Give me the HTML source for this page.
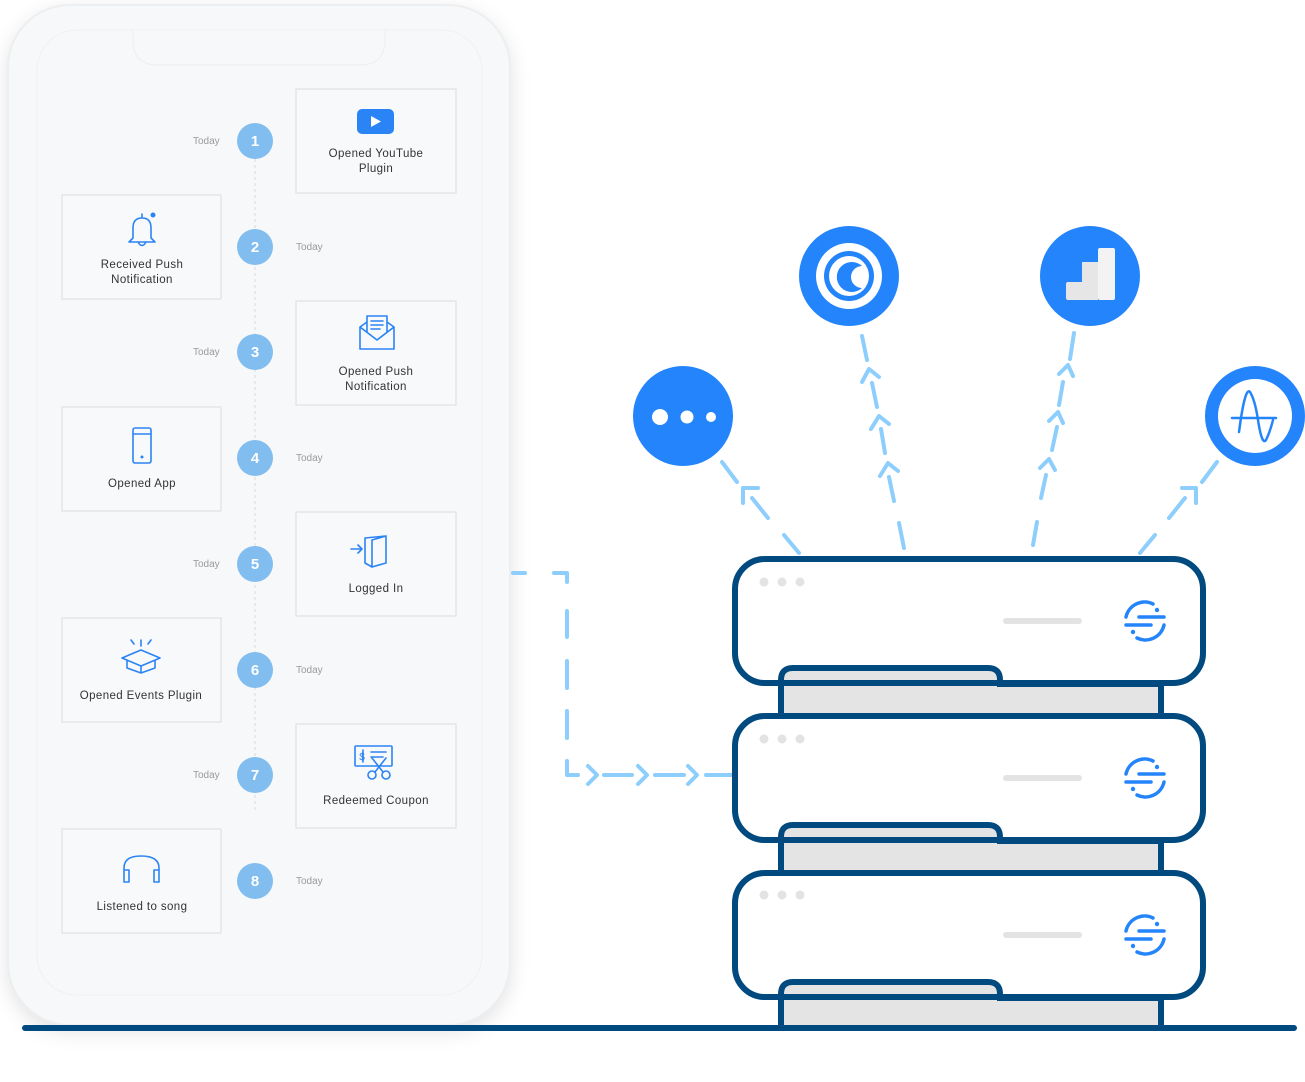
<!DOCTYPE html>
<html><head><meta charset="utf-8"><style>
html,body{margin:0;padding:0;background:#fff;}
svg{display:block;font-family:"Liberation Sans",sans-serif;}
.card{fill:#f8f9fa;stroke:#e3e5e7;stroke-width:1.5;}
.lbl{font-size:11.5px;fill:#333;text-anchor:middle;letter-spacing:0.4px;}
.td{font-size:10px;fill:#9a9a9a;}
.num{font-size:15px;fill:#fff;text-anchor:middle;font-weight:bold;}
.ic{fill:none;stroke:#2b84f5;stroke-width:1.6;stroke-linecap:round;stroke-linejoin:round;}
.chev{fill:none;stroke:#8dcefc;stroke-width:4;stroke-linecap:round;stroke-linejoin:round;}
.srv{fill:#fff;stroke:#004a80;stroke-width:6;}
.base{fill:#e4e4e4;stroke:#004a80;stroke-width:6;}
.si{fill:none;stroke:#2384fb;stroke-width:3.5;stroke-linecap:round;}
</style></head><body>
<svg width="1305" height="1082" viewBox="0 0 1305 1082">
<defs>
<filter id="sh" x="-20%" y="-20%" width="140%" height="140%"><feDropShadow dx="0" dy="6" stdDeviation="10" flood-color="#000" flood-opacity="0.12"/></filter>
<g id="srvicon">
<path d="M-19,-4 A19,19 0 0 1 8,-17" class="si"/>
<path d="M19,4 A19,19 0 0 1 -8,17" class="si"/>
<line x1="-6" y1="-4" x2="19" y2="-4" class="si"/>
<line x1="-19" y1="4" x2="6" y2="4" class="si"/>
<circle cx="12" cy="-11" r="2.2" fill="#2384fb"/><circle cx="-12" cy="11" r="2.2" fill="#2384fb"/>
</g>
</defs>

<!-- phone -->
<rect x="8" y="5" width="502" height="1020" rx="62" fill="#f7f8f9" filter="url(#sh)"/>
<rect x="8" y="5" width="502" height="1020" rx="62" fill="none" stroke="#eceef0" stroke-width="2"/>
<rect x="37" y="30" width="445" height="965" rx="40" fill="#f7f8f9" stroke="#eef0f2" stroke-width="1"/>
<path d="M133,30 L133,40 Q133,65 158,65 L360,65 Q385,65 385,40 L385,30" fill="#f7f8f9" stroke="#eceef0" stroke-width="1"/>

<line x1="255" y1="159" x2="255" y2="813" stroke="#d8dadc" stroke-width="1" stroke-dasharray="3 3"/>

<!-- cards -->
<rect class="card" x="296" y="89" width="160" height="104"/>
<rect class="card" x="62" y="195" width="159" height="104"/>
<rect class="card" x="296" y="301" width="160" height="104"/>
<rect class="card" x="62" y="407" width="159" height="104"/>
<rect class="card" x="296" y="512" width="160" height="104"/>
<rect class="card" x="62" y="618" width="159" height="104"/>
<rect class="card" x="296" y="724" width="160" height="104"/>
<rect class="card" x="62" y="829" width="159" height="104"/>

<!-- icons in cards -->
<rect x="357" y="109" width="37" height="25" rx="5" fill="#2b84f5"/>
<path d="M371,116 L381,121.5 L371,127 Z" fill="#fff"/>
<path class="ic" d="M133,238 L133,228 Q133,218 142,218 Q151,218 151,228 L151,238 L155,242 L129,242 Z M138,242 Q142,249 146,242 M142,218 L142,214"/>
<circle cx="153" cy="215" r="2.5" fill="#2b84f5"/>
<path class="ic" d="M360,327 L360,349 L394,349 L394,327 L377,340 Z M360,327 L367,322 M394,327 L387,322 M367,332 L367,316 L387,316 L387,332 M371,321 L383,321 M371,325 L383,325 M371,329 L380,329"/>
<rect class="ic" x="133" y="428" width="18" height="35" rx="2"/><line class="ic" x1="133" y1="434" x2="151" y2="434"/><circle cx="142" cy="457" r="1.5" fill="#2b84f5"/>
<path class="ic" d="M351,549 L362,549 M358,545 L362,549 L358,553 M365,538 L365,563 L372,567 L372,540 L386,536 L386,563 L372,567 M365,538 L386,536"/>
<path class="ic" d="M122,658 L141,650 L160,658 L141,666 Z M127,660 L127,668 L141,673 L155,668 L155,660 M141,666 L141,673 M141,646 L141,640 M134,644 L131,640 M148,644 L151,640"/>
<rect class="ic" x="355" y="746" width="37" height="20" rx="1"/>
<path class="ic" d="M363,750 L363,762 M371,752 L386,752 M371,757 L383,757"/>
<text x="362" y="760" font-size="10" fill="#2b84f5" text-anchor="middle">$</text>
<circle class="ic" cx="372" cy="775" r="4" fill="#f8f9fa"/><circle class="ic" cx="386" cy="775" r="4" fill="#f8f9fa"/>
<path class="ic" d="M375,772 L386,758 M383,772 L372,758"/>
<path class="ic" d="M124,877 L124,868 Q124,856 141,856 Q159,856 159,868 L159,877 M124,870 L129,870 L129,882 L124,882 Z M159,870 L154,870 L154,882 L159,882 Z"/>

<text class="lbl" x="376" y="157">Opened YouTube</text><text class="lbl" x="376" y="172">Plugin</text>
<text class="lbl" x="142" y="268">Received Push</text><text class="lbl" x="142" y="283">Notification</text>
<text class="lbl" x="376" y="375">Opened Push</text><text class="lbl" x="376" y="390">Notification</text>
<text class="lbl" x="142" y="487">Opened App</text>
<text class="lbl" x="376" y="592">Logged In</text>
<text class="lbl" x="141" y="699">Opened Events Plugin</text>
<text class="lbl" x="376" y="804">Redeemed Coupon</text>
<text class="lbl" x="142" y="910">Listened to song</text>

<!-- timeline numbers -->
<g fill="#82bdf0">
<circle cx="255" cy="141" r="18"/><circle cx="255" cy="247" r="18"/><circle cx="255" cy="352" r="18"/><circle cx="255" cy="458" r="18"/>
<circle cx="255" cy="564" r="18"/><circle cx="255" cy="670" r="18"/><circle cx="255" cy="775" r="18"/><circle cx="255" cy="881" r="18"/>
</g>
<text class="num" x="255" y="146">1</text><text class="num" x="255" y="252">2</text><text class="num" x="255" y="357">3</text><text class="num" x="255" y="463">4</text>
<text class="num" x="255" y="569">5</text><text class="num" x="255" y="675">6</text><text class="num" x="255" y="780">7</text><text class="num" x="255" y="886">8</text>
<text class="td" x="193" y="144">Today</text><text class="td" x="296" y="250">Today</text><text class="td" x="193" y="355">Today</text><text class="td" x="296" y="461">Today</text>
<text class="td" x="193" y="567">Today</text><text class="td" x="296" y="673">Today</text><text class="td" x="193" y="778">Today</text><text class="td" x="296" y="884">Today</text>

<!-- connector phone -> server -->
<path d="M513,573 L525,573 M554,573 L567,573 L567,582 M567,611 L567,637 M567,661 L567,688 M567,711 L567,738 M567,761 L567,775 L578,775 M604,775 L632,775 M655,775 L684,775 M706,775 L732,775" class="chev"/>
<path d="M588,766 L597,775 L588,784 M638,766 L647,775 L638,784 M688,766 L697,775 L688,784" class="chev"/>

<!-- up arrows -->
<path class="chev" d="M799,553 L784,535 M768,518 L752,498 M743,503 L743,488 L758,488 M737,482 L722,462"/>
<path class="chev" d="M1140,553 L1155,535 M1169,518 L1185,498 M1196,503 L1196,488 L1182,488 M1202,482 L1217,462"/>
<path class="chev" d="M904,548 L899,523 M894,501 L889,477 M880,476 L888,463 L898,471 M885,453 L881,429 M871,429 L879,416 L889,424 M877,407 L872,383 M862,382 L869,369 L879,377 M867,360 L862,336"/>
<path class="chev" d="M1033,545 L1037,522 M1041,498 L1046,475 M1040,468 L1049,459 L1055,470 M1052,450 L1057,427 M1049,421 L1058,412 L1063,423 M1059,405 L1063,382 M1059,374 L1068,365 L1073,376 M1070,359 L1074,333"/>

<!-- app icons -->
<circle cx="683" cy="416" r="50" fill="#2384fb"/>
<circle cx="660" cy="417" r="8" fill="#fff"/><circle cx="687" cy="417" r="6.5" fill="#fff"/><circle cx="711" cy="417" r="5" fill="#fff"/>
<circle cx="849" cy="276" r="50" fill="#2384fb"/>
<circle cx="849" cy="276" r="33" fill="#fff"/>
<circle cx="849" cy="276" r="25" fill="#2384fb"/>
<circle cx="849" cy="276" r="20" fill="#fff"/>
<path d="M862,266 A15,15 0 1 0 862,288 A10,10 0 1 1 862,266 Z" fill="#2384fb"/>
<circle cx="1090" cy="276" r="50" fill="#2384fb"/>
<rect x="1098" y="248" width="17" height="52" rx="2" fill="#f3f3f3"/>
<rect x="1066" y="282" width="32" height="18" rx="2" fill="#e6e6e6"/>
<rect x="1082" y="262" width="16" height="38" fill="#e6e6e6"/>
<circle cx="1255" cy="416" r="50" fill="#2384fb"/>
<circle cx="1255" cy="416" r="37" fill="#fff"/>
<path d="M1232,418 L1276,418 M1239,432 Q1245,386 1250,392 Q1255,400 1258,420 Q1262,446 1266,440 Q1270,432 1273,420" fill="none" stroke="#2384fb" stroke-width="2.5" stroke-linecap="round"/>

<!-- servers -->
<rect class="srv" x="735" y="559" width="468" height="124" rx="30"/>
<path class="base" d="M781,716 L781,680 Q781,668 793,668 L988,668 Q1000,668 1000,680 L1000,684 L1161,684 L1161,716"/>
<line x1="770" y1="683" x2="1170" y2="683" stroke="#004a80" stroke-width="6"/>
<rect class="srv" x="735" y="716" width="468" height="124" rx="30"/>
<path class="base" d="M781,873 L781,837 Q781,825 793,825 L988,825 Q1000,825 1000,837 L1000,841 L1161,841 L1161,873"/>
<line x1="770" y1="840" x2="1170" y2="840" stroke="#004a80" stroke-width="6"/>
<rect class="srv" x="735" y="873" width="468" height="124" rx="30"/>
<path class="base" d="M781,1027 L781,994 Q781,982 793,982 L988,982 Q1000,982 1000,994 L1000,998 L1161,998 L1161,1027"/>
<line x1="770" y1="997" x2="1170" y2="997" stroke="#004a80" stroke-width="6"/>
<g fill="#e3e3e3">
<circle cx="764" cy="582" r="4.5"/><circle cx="782" cy="582" r="4.5"/><circle cx="800" cy="582" r="4.5"/>
<circle cx="764" cy="739" r="4.5"/><circle cx="782" cy="739" r="4.5"/><circle cx="800" cy="739" r="4.5"/>
<circle cx="764" cy="895" r="4.5"/><circle cx="782" cy="895" r="4.5"/><circle cx="800" cy="895" r="4.5"/>
<rect x="1003" y="618" width="79" height="6" rx="3"/>
<rect x="1003" y="775" width="79" height="6" rx="3"/>
<rect x="1003" y="932" width="79" height="6" rx="3"/>
</g>
<use href="#srvicon" x="1145" y="621"/>
<use href="#srvicon" x="1145" y="778"/>
<use href="#srvicon" x="1145" y="935"/>

<line x1="25" y1="1028" x2="1294" y2="1028" stroke="#004a80" stroke-width="6" stroke-linecap="round"/>
</svg>
</body></html>
